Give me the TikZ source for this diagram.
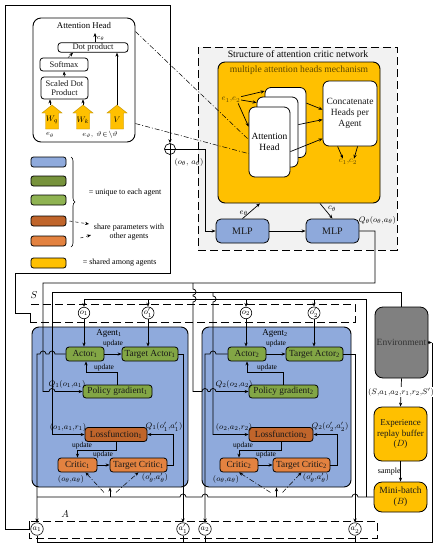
\documentclass[tikz,border=0pt]{standalone}
\usepackage{fontspec}
\setmainfont{Liberation Serif}
\usetikzlibrary{arrows.meta,decorations.pathreplacing,calc}
\definecolor{agentblue}{HTML}{8FAADC}
\definecolor{mlpblue}{HTML}{8EA9DB}
\definecolor{dgreen}{HTML}{77933C}
\definecolor{lgreen}{HTML}{8FB352}
\definecolor{actg}{HTML}{82A645}
\definecolor{lossbrown}{HTML}{C0652B}
\definecolor{critorange}{HTML}{E38240}
\definecolor{gold}{HTML}{FFC000}
\definecolor{envgray}{HTML}{808080}
\definecolor{critbg}{HTML}{F2F2F2}
\definecolor{mahtext}{HTML}{5C4700}
\begin{document}
\begin{tikzpicture}[x=1pt,y=-1pt,line width=0.7pt,
  >={Stealth[length=4pt,width=3.2pt]},
  bx/.style={draw,rounded corners=3pt,inner sep=0pt,line width=0.8pt,font=\fontsize{9.3}{10}\selectfont,text=black!90,align=center},
  wbx/.style={bx,fill=white,font=\fontsize{8.5}{9}\selectfont},
  actbox/.style={bx,fill=actg},
  lossbox/.style={bx,fill=lossbrown},
  critbox/.style={bx,fill=critorange},
  mlpbox/.style={bx,fill=mlpblue,rounded corners=5pt,minimum width=53,minimum height=24,font=\fontsize{10}{11}\selectfont},
  legbox/.style={draw,rounded corners=2.5pt,line width=0.8pt,minimum width=35,minimum height=10,inner sep=0pt},
  headbox/.style={draw,fill=white,rounded corners=6pt,line width=0.8pt,minimum width=41,minimum height=70,inner sep=0pt},
  circ/.style={draw,circle,fill=white,inner sep=0pt,minimum size=11.5,line width=0.6pt,font=\fontsize{8}{8}\selectfont},
  lbl/.style={inner sep=0.5pt,font=\fontsize{8}{9}\selectfont},
  upd/.style={inner sep=0.3pt,font=\fontsize{7.5}{8}\selectfont},
  sdash/.style={dash pattern=on 8pt off 4pt,line width=0.9pt},
  ddot/.style={dash pattern=on 5pt off 2pt on 1pt off 2pt,line width=0.5pt},
  yarr/.style={fill=gold,draw=gold!75!black,line width=0.4pt}
]
\useasboundingbox (0,0) rectangle (439,550);
\fill[white] (0,0) rectangle (439,550);

% ---------- attention head detail ----------
\node[draw,rounded corners=8pt,line width=0.9pt,minimum width=102,minimum height=124,inner sep=0pt] (ahbox) at (84,80) {};
\node[lbl,font=\fontsize{8.8}{9}\selectfont] (ahtitle) at (84,25) {Attention Head};
\node[wbx,minimum width=70,minimum height=9.5] (dot) at (93,47.5) {Dot product};
\node[wbx,minimum width=48,minimum height=13] (soft) at (64,64.5) {Softmax};
\node[wbx,minimum width=47,minimum height=22] (sdp) at (64.5,88) {Scaled Dot\\Product};
\draw[yarr] (45.5,129) -- (45.5,113) -- (42,113) -- (52,105) -- (62,113) -- (58.5,113) -- (58.5,129) -- cycle;
\draw[yarr] (76.5,129) -- (76.5,113) -- (73,113) -- (83,105) -- (93,113) -- (89.5,113) -- (89.5,129) -- cycle;
\draw[yarr] (110.5,129) -- (110.5,113) -- (107,113) -- (117,105) -- (127,113) -- (123.5,113) -- (123.5,129) -- cycle;
\node[lbl,font=\fontsize{8}{8}\selectfont] (wq) at (52,120) {$W_q$};
\node[lbl,font=\fontsize{8}{8}\selectfont] (wk) at (83,120) {$W_k$};
\node[lbl,font=\fontsize{8}{8}\selectfont] (wv) at (117,120) {$V$};
\coordinate (wqt) at (50,105);
\coordinate (wkt) at (83,105);
\coordinate (wvt) at (117,105);
\draw[->,line width=0.5pt] (wqt) -- (wqt |- sdp.south);
\draw[->,line width=0.5pt] (wkt) -- (wkt |- sdp.south);
\draw[->,line width=0.5pt] (wvt) -- (wvt |- dot.south);
\draw[->,line width=0.5pt] (sdp.north) -- (soft.south);
\draw[->,line width=0.5pt] ($(soft.north)+(4,0)$) -- ($(dot.south)+(-20,0)$);
\coordinate (ctip) at (95,33);
\draw[->,line width=0.5pt] (dot.north -| ctip) -- (ctip);
\node[lbl,anchor=west,font=\fontsize{7}{7}\selectfont] (cth) at (96,38.5) {$c_\theta$};
\node[lbl,font=\fontsize{7.5}{8}\selectfont] (eth) at (50,135) {$e_\theta$};
\node[lbl,font=\fontsize{7.5}{8}\selectfont] (evt) at (100,135) {$e_\vartheta,\ \vartheta\!\in\!\backslash\vartheta$};

% ---------- legend ----------
\node[legbox,fill=agentblue] (lg1) at (48.5,162) {};
\node[legbox,fill=dgreen] (lg2) at (48.5,181) {};
\node[legbox,fill=lgreen] (lg3) at (48.5,200) {};
\node[legbox,fill=lossbrown] (lg4) at (48.5,221) {};
\node[legbox,fill=critorange] (lg5) at (48.5,241) {};
\node[legbox,fill=gold] (lg6) at (48.5,263) {};
\draw[decorate,decoration={brace,amplitude=4pt},line width=0.6pt] (71,157) -- (71,247);
\node[lbl,anchor=west] (lgt1) at (88,193) {= unique to each agent};
\node[lbl,align=center] (lgt2) at (129,232) {share parameters with\\other agents};
\draw[dashed,->,line width=0.5pt] ($(lg4.east)+(3,0)$) -- (89,224);
\draw[dashed,->,line width=0.5pt] ($(lg5.east)+(14,-3)$) -- (91,235);
\node[lbl,anchor=west] (lgt3) at (82,263) {= shared among agents};

% ---------- attention critic network ----------
\node[draw,fill=critbg,sdash,minimum width=199,minimum height=203,inner sep=0pt] (crit) at (297.5,148.5) {};
\node[lbl,font=\fontsize{9.8}{10}\selectfont] (crittitle) at (298,54) {Structure of attention critic network};
\node[draw,fill=gold,rounded corners=7pt,line width=0.9pt,minimum width=162,minimum height=141,inner sep=0pt] (mah) at (299,132.5) {};
\node[lbl,font=\fontsize{9.6}{10}\selectfont,text=mahtext] (mahtitle) at (299,70) {multiple attention heads mechanism};
\node[headbox] (hb) at (285.5,122.5) {};
\node[headbox] (hm) at (277.5,132) {};
\node[headbox,align=center,font=\fontsize{9.5}{11}\selectfont] (hf) at (269.5,142) {Attention\\Head};
\node[bx,fill=white,rounded corners=6pt,minimum width=54,minimum height=65,font=\fontsize{9.5}{11}\selectfont] (cat) at (350,113.5) {Concatenate\\Heads per\\Agent};
\node[lbl,text=mahtext] (c12) at (348,162) {$c_1{,}c_2$};
\node[lbl,text=mahtext] (e12) at (231,100) {$e_1{,}e_2$};
\draw[->] (e12.north east) -- ($(hb.north west)+(0,4)$);
\draw[->] (e12.east) -- ($(hm.north west)+(0,6)$);
\draw[->] ($(e12.south east)+(-3,0)$) -- ($(hf.north west)+(0,20)$);
\draw[->] ($(hb.north east)+(0,16)$) -- ($(cat.north west)+(0,29)$);
\draw[->] ($(hm.north east)+(0,28)$) -- ($(cat.north west)+(0,39)$);
\draw[->] ($(hf.north east)+(0,45)$) -- ($(cat.north west)+(0,58)$);
\draw[->] ($(cat.south west)+(15,0)$) -- ($(c12.north)+(-5,0)$);
\draw[->] ($(cat.south west)+(35,0)$) -- ($(c12.north)+(6,0)$);
\draw[ddot] ($(ahbox.north east)+(0,14)$) -- ($(hf.north west)+(0,33)$);
\draw[ddot] ($(ahbox.north east)+(0,106)$) -- ($(hf.north west)+(0,47)$);

\node[mlpbox] (mlp1) at (242.5,231) {MLP};
\node[mlpbox] (mlp2) at (332.5,231) {MLP};
\draw[->] (mlp1) -- (mlp2);
\draw[->] (mlp1.north) -- ($(mah.south)+(-39,0)$) node[lbl,pos=0.35,left] (elab) {$e_\theta$};
\draw[->] ($(mah.south)+(21,0)$) -- (mlp2.north) node[lbl,pos=0.35,right,xshift=3pt] (clab) {$c_\theta$};
\node[lbl,anchor=west] (qlab) at (358,220) {$Q_\theta(o_\theta{,}a_\theta)$};

\node[draw,circle,fill=white,inner sep=0pt,minimum size=11,line width=0.7pt] (plus) at (170,149) {};
\draw[line width=0.6pt] (164.5,149) -- (175.5,149) (170,143.5) -- (170,154.5);
\node[lbl,font=\fontsize{8.5}{9}\selectfont] (oalab) at (189,162) {$(o_\theta,\,a_\theta)$};

% ---------- dashed S and A ----------
\draw[sdash] (31,304) -- (355,304) -- (355,322) -- (30,322);
\node[lbl,font=\fontsize{10}{10}\selectfont] (slab) at (34,295) {$S$};
\draw[sdash] (29,521) rectangle (377,538);
\node[lbl,font=\fontsize{10}{10}\selectfont] (alab) at (65,514) {$A$};

% ---------- agents ----------
\node[draw,fill=agentblue,rounded corners=7pt,line width=0.9pt,minimum width=156,minimum height=160,inner sep=0pt] (ag1) at (110,407) {};
\node[draw,fill=agentblue,rounded corners=7pt,line width=0.9pt,minimum width=149,minimum height=160,inner sep=0pt] (ag2) at (276.5,407) {};
\node[lbl,font=\fontsize{9}{9}\selectfont] (ag1l) at (109,333) {Agent\textsubscript{1}};
\node[lbl,font=\fontsize{9}{9}\selectfont] (ag2l) at (275,333) {Agent\textsubscript{2}};

\node[actbox,minimum width=38,minimum height=14] (act1) at (85,354) {Actor\textsubscript{1}};
\node[actbox,minimum width=56,minimum height=14] (tact1) at (150,354) {Target Actor\textsubscript{1}};
\node[actbox,minimum width=69,minimum height=13] (pg1) at (117.5,391.5) {Policy gradient\textsubscript{1}};
\node[lossbox,minimum width=62,minimum height=14] (loss1) at (116,434.5) {Lossfunction\textsubscript{1}};
\node[critbox,minimum width=39,minimum height=14] (crit1) at (77.5,465) {Critic\textsubscript{1}};
\node[critbox,minimum width=57,minimum height=14] (tcrit1) at (138.5,465) {Target Critic\textsubscript{1}};

\node[actbox,minimum width=38,minimum height=14] (act2) at (247,354) {Actor\textsubscript{2}};
\node[actbox,minimum width=57,minimum height=14] (tact2) at (314.5,354) {Target Actor\textsubscript{2}};
\node[actbox,minimum width=69,minimum height=13] (pg2) at (283.5,391.5) {Policy gradient\textsubscript{2}};
\node[lossbox,minimum width=64,minimum height=14] (loss2) at (281,434.5) {Lossfunction\textsubscript{2}};
\node[critbox,minimum width=38,minimum height=14] (crit2) at (239,465) {Critic\textsubscript{2}};
\node[critbox,minimum width=57,minimum height=14] (tcrit2) at (301.5,465) {Target Critic\textsubscript{2}};

% circles
\node[circ] (o1) at (84,313) {$o_1$};
\node[circ] (to1) at (148,313) {$o'_1$};
\node[circ] (o2) at (246,313) {$o_2$};
\node[circ] (to2) at (314,313) {$o'_2$};
\node[circ,minimum size=12.5] (a1) at (37,529) {$a_1$};
\node[circ,minimum size=12.5] (ta1) at (183,529) {$a'_1$};
\node[circ,minimum size=12.5] (a2) at (205,529) {$a_2$};
\node[circ,minimum size=12.5] (ta2) at (355,529) {$a'_2$};

% right column
\node[bx,fill=envgray,rounded corners=8pt,minimum width=53,minimum height=71,text=black!80,font=\fontsize{9.5}{10}\selectfont] (env) at (401.5,342.5) {Environment};
\node[bx,fill=gold,rounded corners=8pt,minimum width=53,minimum height=54,font=\fontsize{9}{10.5}\selectfont] (erb) at (400.5,434) {Experience\\replay buffer\\($D$)};
\node[bx,fill=gold,rounded corners=8pt,minimum width=53,minimum height=30,font=\fontsize{9.5}{11}\selectfont] (mb) at (400.5,497) {Mini-batch\\($B$)};

% ---------- coordinates ----------
\coordinate (tl) at (5,5);
\coordinate (p1) at (170,273);
\coordinate (p2) at (15,273);
\coordinate (p3) at (15,313);
\coordinate (p4) at (30,313);
\coordinate (p5) at (30,322);
\coordinate (pr) at (205,149);
\coordinate (qR) at (375,283);
\coordinate (qL) at (43,283);
\coordinate (qM) at (193,283);
\coordinate (eL) at (52,292);
\coordinate (eM) at (213,292);
\coordinate (bL) at (37,497);
\coordinate (bR) at (366,497);
\coordinate (bT) at (366,299);
\coordinate (oL) at (84,299);
\coordinate (b1) at (110,497);
\coordinate (b2) at (276.5,497);
\coordinate (eR) at (432,342.5);
\coordinate (brR) at (432,542);
\coordinate (brL) at (37,542);
\coordinate (u1) at (86,372);
\coordinate (u2) at (247,372);
\coordinate (l1) at (77.5,450);
\coordinate (l2) at (239,450);

% ---------- connectors ----------
\draw[->] (a1.west) -| (tl) -| (plus.north);
\draw (plus.south) -- (p1) -- (p2) -- (p3) -- (p4) -- (p5);
\draw[->] (plus.east) -- (pr) |- (mlp1.west);
\draw[->] (mlp2.east) -| (qR) -- (qL) -- (43,391.5) -- (49,391.5) arc[start angle=180,end angle=0,radius=3pt] -- (pg1.west);
\draw[->] (qM) -- (193,289) arc[start angle=90,end angle=-90,radius=3pt] -- (193,296) arc[start angle=90,end angle=-90,radius=3pt] -- (193,391.5) -- (202,391.5) arc[start angle=180,end angle=0,radius=3pt] -- (210,391.5) arc[start angle=180,end angle=0,radius=3pt] -- (pg2.west);
\draw[->] (env.north) |- (eL) |- (loss1.west);
\draw[->] (eM) -- (213,296) arc[start angle=90,end angle=-90,radius=3pt] |- (loss2.west);
\draw (mb.west) -- (358,497) arc[start angle=0,end angle=180,radius=3pt] -- (208,497) arc[start angle=0,end angle=180,radius=3pt] -- (186,497) arc[start angle=0,end angle=180,radius=3pt] -- (bL);
\draw (bR) -- (bT) -- (oL);
\draw[->] (oL) -- (o1.north);
\draw[->] (to1 |- oL) -- (to1.north);
\draw[->] (o2 |- oL) -- (o2.north);
\draw[->] (to2 |- oL) -- (to2.north);
\draw[->] (o1.south) -- (o1.south |- act1.north);
\draw[->] (to1.south) -- (to1.south |- tact1.north);
\draw[->] (o2.south) -- (o2.south |- act2.north);
\draw[->] (to2.south) -- (to2.south |- tact2.north);
\draw[->] (b1) -- (ag1.south);
\draw[->] (b2) -- (ag2.south);
\draw[ddot,->] ($(ag1.south)+(-6,5)$) -- ($(crit1.south)+(8,0)$);
\draw[ddot,->] ($(ag1.south)+(6,5)$) -- (tcrit1.south);
\draw[ddot,->] ($(ag2.south)+(-6,5)$) -- (crit2.south);
\draw[ddot,->] ($(ag2.south)+(6,5)$) -- (tcrit2.south);

\draw[->] (act1.west) -- (55,354) arc[start angle=0,end angle=180,radius=3pt] -- (46,354) arc[start angle=0,end angle=180,radius=3pt] -- (37,354) -- (a1.north);
\draw[->] (tact1.east) -| (ta1.north);
\draw[->] (act2.west) -- (216,354) arc[start angle=0,end angle=180,radius=3pt] -- (205,354) -- (a2.north);
\draw[->] (tact2.east) -| (ta2.north);
\draw[->] (env.east) -- (eR);
\draw (eR) -- (brR) -- (brL);
\draw (a1.south) -- (a1 |- brL);
\draw (ta1.south) -- (ta1 |- brL);
\draw (a2.south) -- (a2 |- brL);
\draw (ta2.south) -- (ta2 |- brL);

\draw[->] (env.south) -- (erb.north);
\node[lbl,fill=white,font=\fontsize{8}{8}\selectfont] (slab2) at (401,392) {$(S{,}a_1{,}a_2{,}r_1{,}r_2{,}S')$};
\draw[->] (erb.south) -- (mb.north) node[lbl,midway,left,xshift=1pt,font=\fontsize{8}{8}\selectfont] (smp) {sample};

% agent 1 internals
\draw[->] (act1) -- (tact1);
\node[upd] (up1a) at (113,343.5) {update};
\draw[->] (pg1.north) |- (u1) -- (u1 |- act1.south);
\node[upd] (up1b) at (104,367.5) {update};
\draw[->] (loss1.south) |- (l1) -- (l1 |- crit1.north);
\node[upd] (up1c) at (82,446) {update};
\draw[->] (crit1) -- (tcrit1);
\node[upd] (up1d) at (103,455) {update};
\draw[->] (tcrit1.east) -- ++(6,0) |- (loss1.east);
\node[lbl] (q1l) at (67,384) {$Q_1(o_1{,}a_1)$};
\node[lbl] (ol1) at (68,427) {$(o_1{,}a_1{,}r_1)$};
\node[lbl] (tq1) at (164,427) {$Q_1(o'_1{,}a'_1)$};
\node[lbl] (oa1) at (71,479) {$(o_\theta{,}a_\theta)$};
\node[lbl] (toa1) at (155,478) {$(o'_\theta{,}a'_\theta)$};

% agent 2 internals
\draw[->] (act2) -- (tact2);
\node[upd] (up2a) at (276,343.5) {update};
\draw[->] (pg2.north) |- (u2) -- (u2 |- act2.south);
\node[upd] (up2b) at (267,367.5) {update};
\draw[->] (loss2.south) |- (l2) -- (l2 |- crit2.north);
\node[upd] (up2c) at (243,446) {update};
\draw[->] (crit2) -- (tcrit2);
\node[upd] (up2d) at (266,455) {update};
\draw[->] (tcrit2.east) -- ++(7,0) |- (loss2.east);
\node[lbl] (q2l) at (234,384) {$Q_2(o_2{,}a_2)$};
\node[lbl] (ol2) at (234,427) {$(o_2{,}a_2{,}r_2)$};
\node[lbl] (tq2) at (330,427) {$Q_2(o'_2{,}a'_2)$};
\node[lbl] (oa2) at (226,479) {$(o_\theta{,}a_\theta)$};
\node[lbl] (toa2) at (316,478) {$(o'_\theta{,}a'_\theta)$};
\end{tikzpicture}
\end{document}
